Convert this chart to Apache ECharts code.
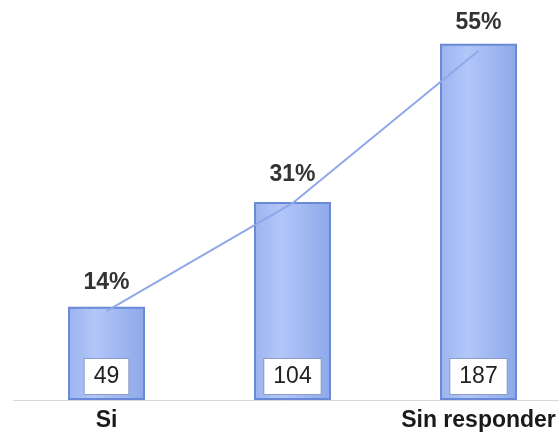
<!DOCTYPE html>
<html>
<head>
<meta charset="utf-8">
<script src="https://cdn.jsdelivr.net/npm/echarts@6/dist/echarts.min.js"></script>
<style>html,body{margin:0;padding:0;background:#fff}#c{width:559px;height:438px}</style>
</head>
<body>
<div id="c"></div>
<script>
var categories = ['Si', 'No', 'Sin responder'];
var counts = [49, 104, 187];
var percents = [14, 31, 55];

var chart = echarts.init(document.getElementById('c'));
chart.setOption({
  animation: false,
  grid: { left: 13.5, width: 558, top: 0, height: 400, containLabel: false, outerBoundsMode: 'none' },
  xAxis: {
    type: 'category',
    data: categories,
    axisLine: { lineStyle: { color: '#d9d9d9', width: 1 } },
    axisTick: { show: false },
    axisLabel: { color: '#1a1a1a', fontSize: 23, fontWeight: 'bold', fontFamily: 'Liberation Sans, Arial', margin: 9, hideOverlap: false }
  },
  yAxis: [
    { type: 'value', min: 0, max: 210, show: false, splitLine: { show: false } },
    { type: 'value', min: 0, max: 63, show: false, splitLine: { show: false } }
  ],
  series: [
    {
      type: 'bar',
      data: counts,
      barWidth: 77,
      itemStyle: {
        color: {
          type: 'linear', x: 0, y: 0, x2: 1, y2: 0,
          colorStops: [
            { offset: 0, color: '#9cb3ee' },
            { offset: 0.35, color: '#b2c6f8' },
            { offset: 1, color: '#8ea8ea' }
          ]
        },
        borderColor: '#6a89d6',
        borderWidth: 2
      },
      label: {
        show: true,
        position: 'insideBottom',
        distance: 6,
        color: '#222',
        fontSize: 23,
        fontFamily: 'Liberation Sans, Arial',
        backgroundColor: '#ffffff',
        borderColor: '#8a9cc4',
        borderWidth: 1,
        padding: [6, 9, 6, 9]
      }
    },
    {
      type: 'line',
      yAxisIndex: 1,
      data: percents,
      symbol: 'circle',
      symbolSize: 0.01,
      showSymbol: true,
      itemStyle: { color: '#8fa8e8' },
      lineStyle: { color: '#8fa8e8', width: 2 },
      label: {
        show: true,
        position: 'top',
        distance: 17,
        color: '#333',
        fontSize: 23,
        fontWeight: 'bold',
        fontFamily: 'Liberation Sans, Arial',
        formatter: function (p) { return p.value + '%'; }
      },
      z: 3
    }
  ]
});
</script>
</body>
</html>
